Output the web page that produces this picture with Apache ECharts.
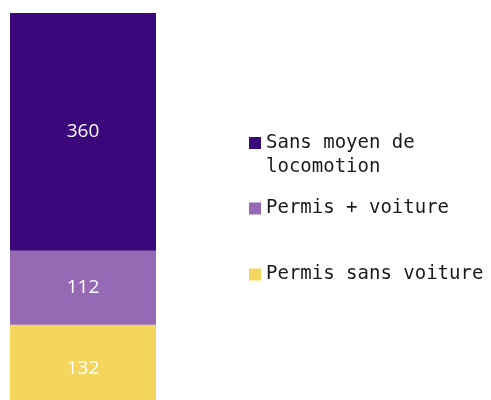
<!DOCTYPE html>
<html>
<head>
<meta charset="utf-8">
<script src="https://cdn.jsdelivr.net/npm/echarts@6/dist/echarts.min.js"></script>
<style>
  html, body { margin: 0; padding: 0; background: #fff; }
  #chart { width: 491px; height: 400px; }
</style>
</head>
<body>
<div id="chart"></div>
<script>
// données (du bas vers le haut de la barre)
const categories = ['Total']
const seriesNames = ['Permis sans voiture', 'Permis + voiture', 'Sans moyen de locomotion']
const seriesValues = [132, 112, 360]
const seriesColors = ['#f4d55d', '#9669b4', '#3a087b']

const total = seriesValues.reduce((a, b) => a + b, 0)
const chart = echarts.init(document.getElementById('chart'))

const LH = 24
const legendText = {
  fontFamily: 'DejaVu Sans Mono',
  fontSize: 19,
  color: '#1a1a1a',
  lineHeight: LH
}

// une légende par entrée pour garder l'espacement fixe
const legendTops = { 'Sans moyen de locomotion': 107, 'Permis + voiture': 196.5, 'Permis sans voiture': 262.5 }
const legendOrder = ['Sans moyen de locomotion', 'Permis + voiture', 'Permis sans voiture']
const legends = legendOrder.map(name => ({
  left: 249,
  top: legendTops[name],
  padding: 0,
  itemWidth: 12,
  itemHeight: 12,
  icon: 'rect',
  selectedMode: false,
  data: [name],
  textStyle: legendText,
  // ligne vide en tête : la première ligne reste alignée sur le carré
  formatter: n => n === 'Sans moyen de locomotion' ? ' \nSans moyen de\nlocomotion' : n
}))

const option = {
  animation: false,
  grid: { left: 10, top: 13, width: 146, height: 399, containLabel: false, outerBoundsMode: 'none' },
  legend: legends,
  xAxis: {
    type: 'category',
    data: categories,
    show: false
  },
  yAxis: {
    type: 'value',
    min: 0,
    max: total,
    show: false
  },
  series: seriesNames.map((name, i) => ({
    name: name,
    type: 'bar',
    stack: 'total',
    barWidth: '100%',
    itemStyle: { color: seriesColors[i] },
    label: {
      show: true,
      position: 'inside',
      color: '#fff',
      fontFamily: 'Open Sans',
      fontSize: 19
    },
    data: [seriesValues[i]]
  }))
}

chart.setOption(option)
</script>
</body>
</html>
